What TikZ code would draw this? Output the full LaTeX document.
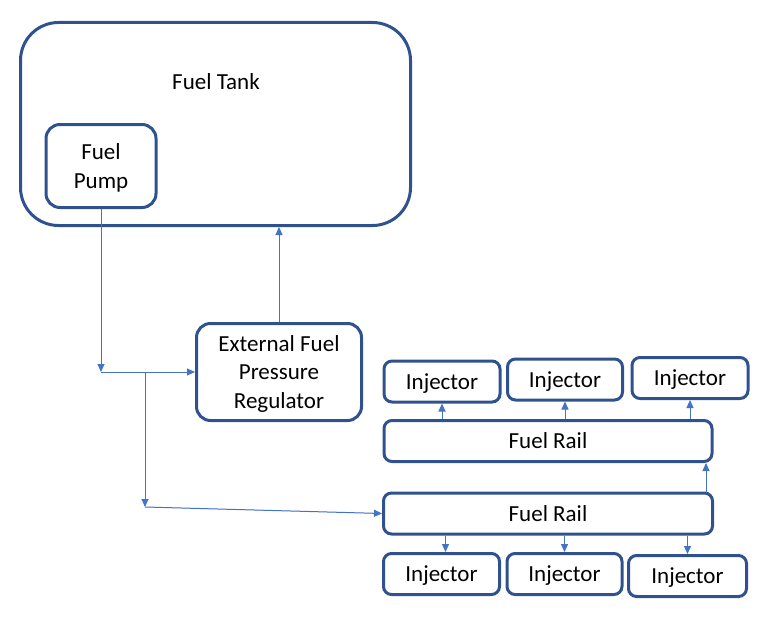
\documentclass[tikz,border=0pt]{standalone}
\usepackage{fontspec}
\setmainfont{Carlito}
\usetikzlibrary{arrows.meta}
\definecolor{boxblue}{HTML}{2F528F}
\definecolor{lineblue}{HTML}{4472C4}
\begin{document}
\begin{tikzpicture}[x=1pt, y=-1pt, >={Triangle[length=8pt,width=7pt]}]
	\tikzset{every node/.style={font=\fontsize{23}{28.5}\selectfont, align=center, text depth=0pt}}
	\tikzset{part/.style={draw=boxblue, line width=3pt, inner sep=0pt}}
	\tikzset{feed/.style={->, draw=lineblue, fill=lineblue, line width=1pt}}
	\useasboundingbox (0,0) rectangle (777,618);
	% --- 1. Bình nhiên liệu ---
	\node[part, rounded corners=38, minimum width=390, minimum height=203] (tank) at (215.5,124) {};
	\node (tanklbl) at (216,82) {Fuel Tank};
	\node[part, rounded corners=14, minimum width=110, minimum height=83] (pump) at (101,166) {Fuel\\Pump};
	% --- 2. Bộ điều áp ---
	\node[part, rounded corners=14, minimum width=165, minimum height=97] (reg) at (279,372) {External Fuel\\Pressure\\Regulator};
	% --- 3. Ống phân phối ---
	\node[part, rounded corners=8, minimum width=328, minimum height=41] (railtop) at (548,441) {Fuel Rail};
	\node[part, rounded corners=8, minimum width=329, minimum height=41] (railbot) at (548,513.5) {Fuel Rail};
	% --- 4. Kim phun ---
	\node[part, rounded corners=8, minimum width=116, minimum height=41] (injA) at (442,381.5) {Injector};
	\node[part, rounded corners=8, minimum width=115, minimum height=41] (injB) at (565,379.5) {Injector};
	\node[part, rounded corners=8, minimum width=116, minimum height=41] (injC) at (690,378) {Injector};
	\node[part, rounded corners=8, minimum width=116, minimum height=41] (injD) at (441.5,574) {Injector};
	\node[part, rounded corners=8, minimum width=115, minimum height=41] (injE) at (564.5,574) {Injector};
	\node[part, rounded corners=8, minimum width=118, minimum height=41] (injF) at (687.5,576) {Injector};
	% --- 5. Đường nhiên liệu ---
	\coordinate (pumpout) at (101,372);
	\coordinate (split) at (145,372);
	\coordinate (down) at (145,507);
	\coordinate (riser) at (706,493);
	\draw[feed] (pump.south) -- (pumpout);
	\draw[feed] (pumpout) -- (reg.west);
	\draw[feed] (split) -- (down);
	\draw[feed] (down) -- (railbot.west);
	\draw[feed] (reg.north) -- (reg.north |- tank.south); % Hồi về bình
	\draw[feed] (riser) -- (riser |- railtop.south);
	\draw[feed] (railtop.north -| injA.south) -- (injA.south);
	\draw[feed] (railtop.north -| injB.south) -- (injB.south);
	\draw[feed] (railtop.north -| injC.south) -- (injC.south);
	\draw[feed] ([xshift=4]railbot.south -| injD.north) -- ([xshift=4]injD.north);
	\draw[feed] (railbot.south -| injE.north) -- (injE.north);
	\draw[feed] (railbot.south -| injF.north) -- (injF.north);
\end{tikzpicture}
\end{document}
